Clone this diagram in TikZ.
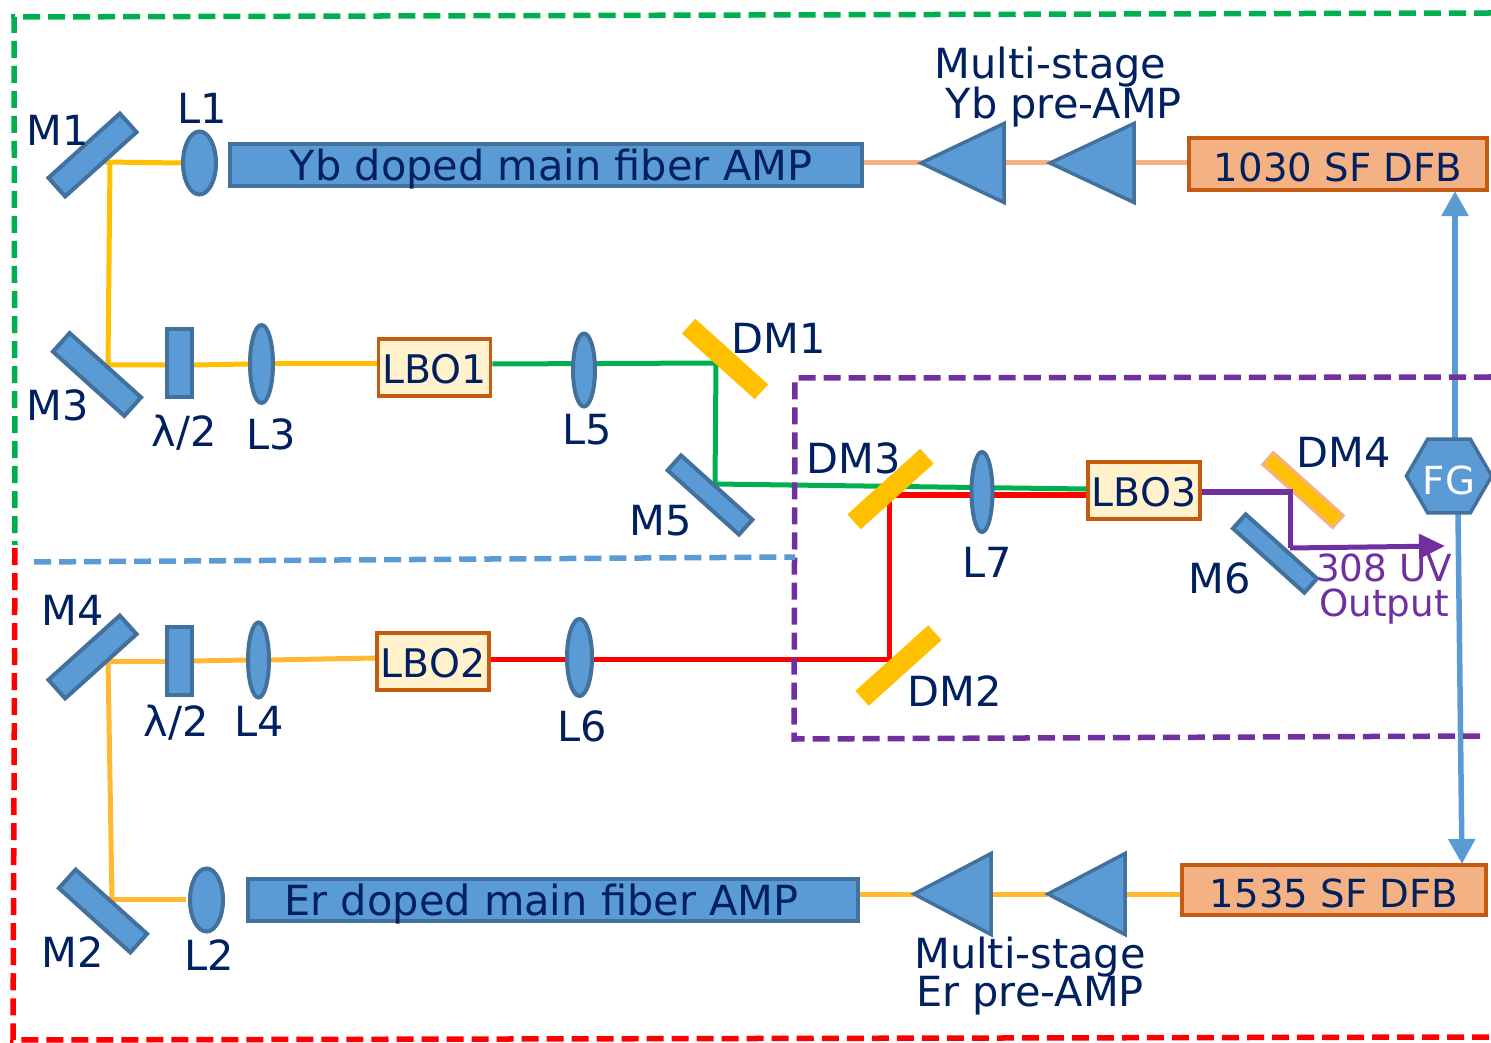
\documentclass[tikz,border=0pt]{standalone}
\usepackage{fontspec}
\setmainfont{DejaVu Sans}
\usepackage{xcolor}
\usetikzlibrary{arrows.meta,shapes.geometric,backgrounds}
\definecolor{fillblue}{HTML}{5B9BD5}
\definecolor{edgeblue}{HTML}{41719C}
\definecolor{navy}{HTML}{002060}
\definecolor{boxorange}{HTML}{F4B183}
\definecolor{edgeorange}{HTML}{C55A11}
\definecolor{boxcream}{HTML}{FFF2CC}
\definecolor{beamyellow}{HTML}{FFC000}
\definecolor{beamamber}{HTML}{FFB933}
\definecolor{beamgreen}{HTML}{00B050}
\definecolor{beamred}{HTML}{FF0000}
\definecolor{beampurple}{HTML}{7030A0}

\begin{document}
\begin{tikzpicture}[
  x=0.01cm, y=-0.01cm,
  >=Triangle,
  lbl/.style={inner sep=0pt, text=navy, font=\fontsize{11.8}{11.1}\selectfont, align=center},
  mirror/.style={draw=edgeblue, line width=0.4mm, fill=fillblue, inner sep=0pt, minimum width=0.96cm, minimum height=0.25cm},
  dichroic/.style={fill=beamyellow, inner sep=0pt, minimum width=0.98cm, minimum height=0.2cm},
  lens/.style={ellipse, draw=edgeblue, line width=0.4mm, fill=fillblue, inner sep=0pt},
  plate/.style={draw=edgeblue, line width=0.4mm, fill=fillblue, inner sep=0pt, minimum width=0.24cm, minimum height=0.68cm},
  amp/.style={lbl, draw=edgeblue, line width=0.4mm, fill=fillblue, minimum height=0.42cm, text height=9pt, text depth=0pt},
  stage/.style={isosceles triangle, isosceles triangle stretches, shape border rotate=180, anchor=apex, draw=edgeblue, line width=0.35mm, fill=fillblue, inner sep=0pt, outer sep=0pt, minimum width=0.81cm, minimum height=0.77cm},
  seed/.style={lbl, draw=edgeorange, line width=0.35mm, fill=boxorange, font=\fontsize{11}{11}\selectfont, text height=9.9pt, text depth=0pt},
  crystal/.style={lbl, draw=edgeorange, line width=0.35mm, fill=boxcream, minimum width=1.12cm, minimum height=0.57cm, font=\fontsize{11.2}{11}\selectfont, text height=9.3pt, text depth=0pt},
  beam/.style={line width=0.5mm},
  zone/.style={line width=0.55mm, dash pattern=on 0.17cm off 0.08cm},
  sync/.style={line width=0.55mm, color=fillblue, -{Triangle[length=0.25cm,width=0.26cm]}},
]
\useasboundingbox (0,0) rectangle (1491,1043);

% Dashed zones
\draw[zone, beamgreen] (1491,13) -- (14,17) -- (15,545);
\draw[zone, beamred] (15,548) -- (13,1040) -- (1491,1037);
\draw[zone, beampurple] (1491,377) -- (795,378) -- (794,739) -- (1485,736);
\draw[zone, fillblue] (34,562) -- (795,557);

% Yb line
\node[amp, minimum width=6.32cm] (ampyb) at (546,165) {\mbox{\hspace{0.1cm}}Yb doped main fiber AMP};
\node[stage, minimum width=0.79cm, minimum height=0.83cm] (stageyba) at (921,163) {};
\node[stage, minimum width=0.79cm, minimum height=0.84cm] (stageybb) at (1050,163) {};
\node[seed, minimum width=2.98cm, minimum height=0.52cm] (seedyb) at (1338,164) {1030 SF DFB};

% Er line
\node[amp, minimum width=6.09cm] (amper) at (553,900) {Er doped main fiber AMP\mbox{\hspace{0.23cm}}};
\node[stage] (stageera) at (914,894) {};
\node[stage] (stageerb) at (1048,894) {};
\node[seed, minimum width=3.04cm, minimum height=0.5cm] (seeder) at (1334,890) {1535 SF DFB};

% Beam corners
\coordinate (ca) at (105,162);
\coordinate (cb) at (110,162);
\coordinate (cc) at (108,365);
\coordinate (cd) at (103,661);
\coordinate (ce) at (108,660);
\coordinate (cf) at (112,899);
\coordinate (cg) at (186,899);
\coordinate (ch) at (716,363);
\coordinate (ci) at (715,484);
\coordinate (cj) at (889,659);
\coordinate (ck) at (889,495);
\coordinate (cl) at (1290,492);
\coordinate (cm) at (1290,548);
\coordinate (cn) at (1445,546);
\coordinate (fgup) at (1455,191);
\coordinate (fgdown) at (1462,864);
\coordinate (fgupstart) at (1455,439);
\coordinate (fgdownstart) at (1458,513);

% Lenses and plates
\node[lens, minimum width=0.33cm, minimum height=0.63cm] (la) at (199.5,163) {};
\node[lens, minimum width=0.23cm, minimum height=0.78cm] (lc) at (261.5,364) {};
\node[lens, minimum width=0.22cm, minimum height=0.73cm] (le) at (584,370) {};
\node[lens, minimum width=0.21cm, minimum height=0.8cm] (lg) at (982,492) {};
\node[lens, minimum width=0.21cm, minimum height=0.75cm] (ld) at (258.5,660) {};
\node[lens, minimum width=0.25cm, minimum height=0.77cm] (lf) at (579.5,657.5) {};
\node[lens, minimum width=0.33cm, minimum height=0.63cm] (lb) at (206.5,900) {};
\node[plate] (hwpa) at (179.5,363) {};
\node[plate] (hwpb) at (179.5,661) {};

% Crystals
\node[crystal] (lboa) at (434.5,367.5) {LBO1};
\node[crystal] (lbob) at (433,661.5) {LBO2};
\node[crystal] (lboc) at (1144,490.5) {LBO3};

% Mirrors
\node[mirror, rotate=42] (ma) at (92.5,155) {};
\node[mirror, rotate=-42] (mc) at (97,374.5) {};
\node[mirror, rotate=42] (md) at (92.5,657) {};
\node[mirror, rotate=-42] (mb) at (103,911) {};
\node[mirror, rotate=-42, minimum height=0.2cm] (me) at (710,495) {};
\node[mirror, rotate=-42, minimum height=0.19cm] (mf) at (1275,553.5) {};

% Dichroics
\node[dichroic, rotate=-42] (dma) at (725,359) {};
\node[dichroic, rotate=42] (dmb) at (898.5,665.5) {};
\node[dichroic, rotate=42] (dmc) at (890.5,489) {};
\node[dichroic, rotate=-42, draw=boxorange, line width=0.3mm, minimum width=0.94cm, minimum height=0.16cm] (dmd) at (1303,490) {};

% Frequency generator
\node[regular polygon, regular polygon sides=6, draw=edgeblue, line width=0.35mm, fill=fillblue, text=white, inner sep=0pt, minimum size=0.84cm, font=\fontsize{11}{11}\selectfont, text height=10.8pt, text depth=0pt] (fg) at (1449,476) {FG};

% Beams
\begin{scope}[on background layer]
\draw[beam, boxorange] (ampyb.east |- stageyba.apex) -- (stageyba.apex);
\draw[beam, boxorange] (stageyba.east) -- (stageybb.apex);
\draw[beam, boxorange] (stageybb.east) -- (stageybb.east -| seedyb.west);
\draw[beam, beamyellow] (ca) -- (la.west);
\draw[beam, beamyellow] (cb) -- (cc) -- (cc -| hwpa.west);
\draw[beam, beamyellow] (hwpa.east |- cc) -- (lc.west);
\draw[beam, beamyellow] (lc.east) -- (lc.east -| lboa.west);
\draw[beam, beamgreen] (lboa.east |- lc.east) -- (ch) -- (ci) -- (lboc.west |- 0,489);
\draw[beam, beamred] (lbob.east |- 0,659) -- (cj) -- (ck) -- (lboc.west |- ck);
\draw[beam, beamamber] (cd) -- (hwpb.west);
\draw[beam, beamamber] (hwpb.east) -- (ld.west);
\draw[beam, beamamber] (ld.east) -- (lbob.west |- 0,658);
\draw[beam, beamamber] (ce) -- (cf);
\draw[beam, beamamber] (cf) -- (cg);
\draw[beam, beamamber] (amper.east |- stageera.apex) -- (stageera.apex);
\draw[beam, beamamber] (stageera.east) -- (stageerb.apex);
\draw[beam, beamamber] (stageerb.east) -- (stageerb.east -| seeder.west);
\draw[sync] (fgupstart) -- (fgup);
\draw[sync] (fgdownstart) -- (fgdown);
\end{scope}

% Output
\draw[beam, beampurple] (lboc.east |- cl) -- (cl) -- (cm);
\draw[beam, beampurple, -{Triangle[length=0.26cm,width=0.24cm]}] (cm) -- (cn);

% Labels
\node[lbl] (tma) at (58,130) {M1};
\node[lbl] (tla) at (202,108) {L1};
\node[lbl] (tmc) at (58,405) {M3};
\node[lbl] (thwpa) at (184,433) {λ/2};
\node[lbl] (tlc) at (271,434) {L3};
\node[lbl] (tle) at (587,430) {L5};
\node[lbl] (tdma) at (779,338) {DM1};
\node[lbl] (tme) at (661,521) {M5};
\node[lbl] (tdmc) at (854,458) {DM3};
\node[lbl] (tlg) at (987,562) {L7};
\node[lbl] (tdmd) at (1344,452) {DM4};
\node[lbl] (tmf) at (1220,578) {M6};
\node[lbl] (tdmb) at (955,691) {DM2};
\node[lbl] (tmd) at (73,610) {M4};
\node[lbl] (thwpb) at (176,723) {λ/2};
\node[lbl] (tld) at (259,721) {L4};
\node[lbl] (tlf) at (582,726) {L6};
\node[lbl] (tmb) at (73,952) {M2};
\node[lbl] (tlb) at (209,955) {L2};
\node[lbl, align=left, anchor=west] (tpreyb) at (934,87) {Multi-stage\\[-0.04cm]\mbox{\hspace{0.11cm}}Yb pre-AMP};
\node[lbl] (tpreer) at (1030,976) {Multi-stage\\[-0.01cm]Er pre-AMP};
\node[lbl, text=beampurple, font=\fontsize{10.6}{10.2}\selectfont] (tout) at (1384,589) {308 UV\\Output};

\end{tikzpicture}
\end{document}
